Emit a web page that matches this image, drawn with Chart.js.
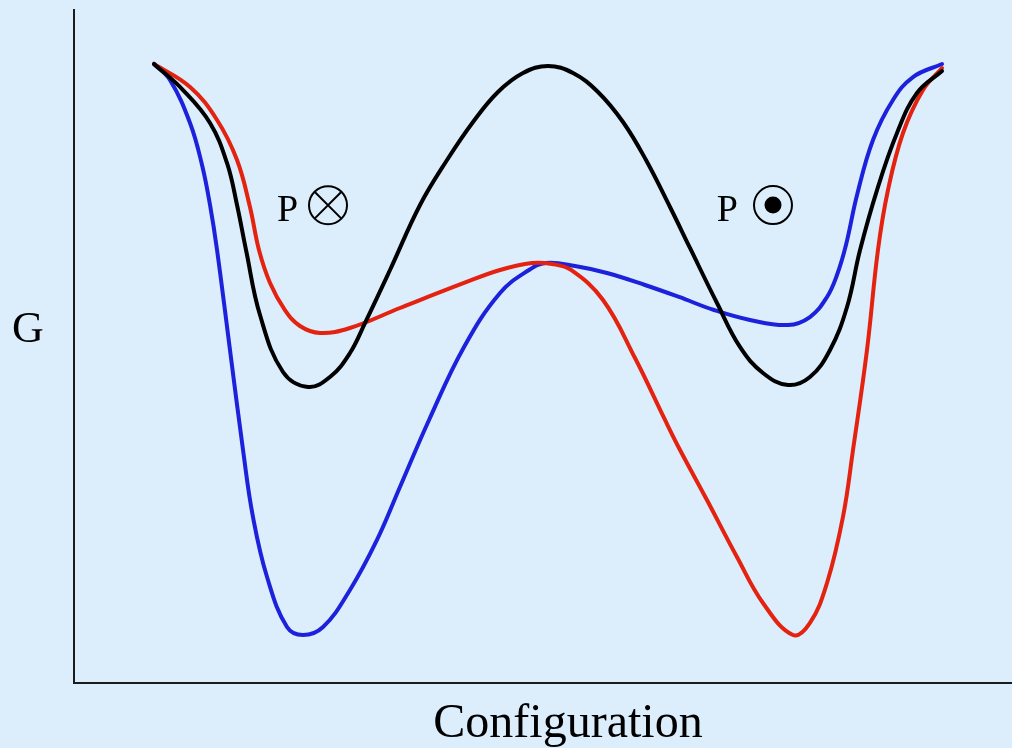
<!DOCTYPE html>
<html>
<head>
<meta charset="utf-8">
<script src="https://cdn.jsdelivr.net/npm/chart.js@4.4.1/dist/chart.umd.min.js"></script>
<style>
    html, body { margin: 0; padding: 0; background: #dcedfc; }
    canvas { display: block; }
</style>
</head>
<body>
<canvas id="chart" width="1012" height="748"></canvas>
<script>
// free energy G vs configuration (0..100 both ways)
const blackX = [8.53, 11.62, 14.50, 16.31, 17.38, 18.34, 19.83, 22.28, 24.95, 27.29, 29.42, 31.02, 33.69, 36.89, 39.77, 42.54, 45.20, 47.87, 50.53, 53.20, 55.86, 58.53, 60.98, 63.54, 65.67, 68.55, 71.00, 73.45, 76.12, 78.46, 80.60, 82.41, 83.80, 85.61, 87.74, 89.87, 92.54];
const blackG = [91.98, 88.11, 83.21, 77.27, 71.03, 64.34, 54.68, 46.21, 43.98, 45.47, 49.03, 53.49, 61.37, 71.03, 77.71, 83.36, 87.82, 90.64, 91.68, 90.64, 87.82, 83.36, 77.71, 70.73, 64.64, 56.46, 49.93, 46.06, 44.28, 45.47, 49.48, 55.87, 64.34, 73.25, 81.72, 87.67, 90.94];

const redX = [8.53, 12.37, 15.25, 17.38, 18.76, 19.72, 20.90, 22.49, 24.09, 26.23, 29.42, 34.75, 41.58, 45.42, 48.83, 50.96, 52.99, 56.40, 59.81, 63.01, 64.61, 67.48, 70.68, 73.45, 76.65, 78.46, 80.28, 81.98, 83.05, 84.54, 85.71, 86.78, 88.38, 90.51, 92.54];
const redG = [91.98, 88.56, 83.66, 77.71, 70.73, 64.34, 59.44, 55.42, 53.05, 52.01, 52.75, 55.72, 59.44, 61.37, 62.41, 62.26, 61.37, 56.91, 48.29, 39.08, 34.62, 27.19, 18.72, 11.89, 7.13, 8.92, 14.86, 24.67, 34.62, 49.48, 64.34, 73.25, 81.72, 88.11, 91.38];

const blueX = [8.53, 10.23, 12.37, 13.65, 14.50, 15.25, 16.63, 18.02, 19.08, 20.58, 22.71, 24.41, 26.55, 29.42, 32.30, 34.75, 37.85, 41.58, 45.42, 48.51, 50.32, 53.41, 56.82, 60.87, 64.50, 68.23, 72.07, 76.12, 78.46, 80.28, 81.34, 82.30, 83.48, 85.18, 87.31, 89.45, 92.54];
const blueG = [91.98, 89.60, 83.21, 76.97, 71.03, 64.34, 49.48, 34.62, 24.67, 15.75, 8.32, 7.13, 8.32, 13.82, 21.25, 29.12, 39.08, 49.93, 57.95, 61.37, 62.41, 61.96, 60.92, 59.14, 57.36, 55.42, 53.94, 53.19, 54.38, 57.36, 60.62, 65.08, 72.51, 80.68, 86.63, 90.04, 91.98];

// polarisation markers: [x, G] of the circle symbol
const markerIn = [27.08, 71.0];
const markerOut = [74.52, 71.02];

const toPoints = (xs, ys) => xs.map((x, i) => ({x: x, y: ys[i]}));

const serif = '"Liberation Serif", "DejaVu Serif", serif';

const labelsPlugin = {
    id: 'labels',
    afterDraw(chart) {
        const {ctx, chartArea, scales} = chart;
        ctx.save();
        ctx.fillStyle = '#000';
        ctx.strokeStyle = '#000';
        ctx.textBaseline = 'alphabetic';

        // axis names
        ctx.font = '44px ' + serif;
        ctx.textAlign = 'center';
        ctx.fillText('G', chartArea.left - 46, 342);
        ctx.font = '48px ' + serif;
        ctx.fillText('Configuration', 568, 737);

        // P into the page
        ctx.font = '38px ' + serif;
        ctx.textAlign = 'right';
        let cx = scales.x.getPixelForValue(markerIn[0]);
        let cy = scales.y.getPixelForValue(markerIn[1]);
        ctx.fillText('P', cx - 30, cy + 16);
        ctx.lineWidth = 2;
        ctx.beginPath();
        ctx.arc(cx, cy, 19, 0, Math.PI * 2);
        ctx.stroke();
        const d = 19 * Math.SQRT1_2;
        ctx.beginPath();
        ctx.moveTo(cx - d, cy - d);
        ctx.lineTo(cx + d, cy + d);
        ctx.moveTo(cx + d, cy - d);
        ctx.lineTo(cx - d, cy + d);
        ctx.stroke();

        // P out of the page
        cx = scales.x.getPixelForValue(markerOut[0]);
        cy = scales.y.getPixelForValue(markerOut[1]);
        ctx.fillText('P', cx - 35, cy + 16);
        ctx.beginPath();
        ctx.arc(cx, cy, 19, 0, Math.PI * 2);
        ctx.stroke();
        ctx.beginPath();
        ctx.arc(cx, cy, 8.5, 0, Math.PI * 2);
        ctx.fill();

        ctx.restore();
    }
};

const line = (data, color) => ({
    data: data,
    borderColor: color,
    borderWidth: 4,
    pointRadius: 0,
    fill: false,
    tension: 0.4,
    borderCapStyle: 'round',
    borderJoinStyle: 'round'
});

const axis = {
    type: 'linear',
    min: 0,
    max: 100,
    grid: {display: false, drawTicks: false},
    ticks: {display: false},
    border: {display: true, color: '#1c1c1c', width: 2}
};

new Chart(document.getElementById('chart'), {
    type: 'line',
    data: {
        datasets: [
            line(toPoints(blackX, blackG), '#000000'),
            line(toPoints(redX, redG), '#e3220f'),
            line(toPoints(blueX, blueG), '#1c22dc')
        ]
    },
    options: {
        responsive: false,
        animation: false,
        layout: {padding: {left: 74, top: 10, right: 0, bottom: 65}},
        scales: {x: axis, y: axis},
        plugins: {legend: {display: false}, tooltip: {enabled: false}}
    },
    plugins: [labelsPlugin]
});
</script>
</body>
</html>
